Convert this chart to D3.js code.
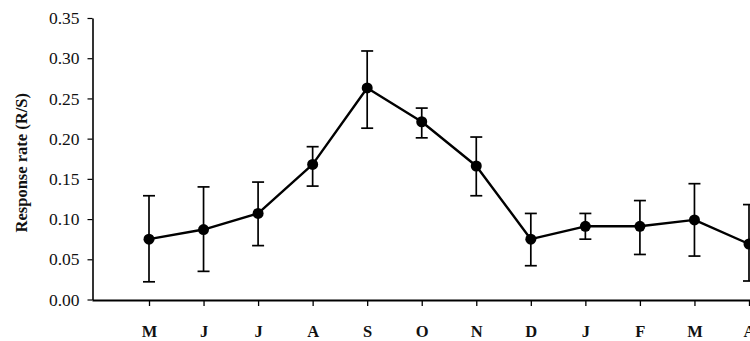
<!DOCTYPE html>
<html>
<head>
<meta charset="utf-8">
<script src="https://cdn.jsdelivr.net/npm/d3@7"></script>
<style>
  body { margin: 0; background: #fff; }
  svg { display: block; }
  svg text { font-family: "Liberation Serif", "DejaVu Serif", serif; }
</style>
</head>
<body>
<div id="chart"></div>
<script>
// months, May -> April
var months = ["M", "J", "J", "A", "S", "O", "N", "D", "J", "F", "M", "A"];
var rate   = [0.075, 0.087, 0.107, 0.168, 0.263, 0.221, 0.166, 0.075, 0.091, 0.091, 0.099, 0.069];
var upper  = [0.129, 0.140, 0.146, 0.190, 0.309, 0.238, 0.202, 0.107, 0.107, 0.123, 0.144, 0.118];
var lower  = [0.022, 0.035, 0.067, 0.141, 0.213, 0.201, 0.129, 0.042, 0.075, 0.056, 0.054, 0.023];
var yTicks = [0, 0.05, 0.10, 0.15, 0.20, 0.25, 0.30, 0.35];

var width = 750, height = 341;
var svg = d3.select("#chart").append("svg")
    .attr("width", width)
    .attr("height", height);

var data = months.map((m, i) => ({ i: i, m: m, v: rate[i], hi: upper[i], lo: lower[i] }));

// x: index positions (last one sits at the right edge, chart is cut off there)
var x = d3.scaleLinear()
    .domain([0, 11])
    .range([149, 749]);

var y = d3.scaleLinear()
    .domain([0, 0.35])
    .range([299.5, 18]);

var xAxis = g => g
    .attr("transform", "translate(0,300)")
    .attr("font-family", null)
    .call(d3.axisBottom(x).tickValues(d3.range(12)).tickFormat(i => months[i]).tickSize(6).tickPadding(19).tickSizeOuter(0))
    .call(g => g.select(".domain").attr("d", `M92.5,0.5H${width + 10}`).attr("stroke-width", 2))
    .call(g => g.selectAll(".tick line").attr("stroke-width", 1.3))
    .call(g => g.selectAll(".tick text").attr("font-size", 16.5).attr("font-weight", "bold").attr("fill", "#111"));

var yAxis = g => g
    .attr("transform", "translate(92.5,0)")
    .attr("font-family", null)
    .call(d3.axisLeft(y).tickValues(yTicks).tickFormat(d3.format(".2f")).tickSize(5).tickPadding(8).tickSizeOuter(0))
    .call(g => g.select(".domain").attr("stroke-width", 1.6))
    .call(g => g.selectAll(".tick line").attr("stroke-width", 1.2))
    .call(g => g.selectAll(".tick text").attr("font-size", 17.5).attr("fill", "#111"));

svg.append("g").call(xAxis);
svg.append("g").call(yAxis);

svg.append("text")
    .attr("transform", "translate(27," + y(0.17) + ") rotate(-90)")
    .attr("text-anchor", "middle")
    .attr("font-size", 16.5)
    .attr("font-weight", "bold")
    .attr("fill", "#111")
    .text("Response rate (R/S)");

// error bars
var bars = svg.append("g").attr("stroke", "#000").attr("stroke-width", 1.7);
bars.selectAll("line.err")
    .data(data)
    .join("line")
    .attr("class", "err")
    .attr("x1", d => x(d.i)).attr("x2", d => x(d.i))
    .attr("y1", d => y(d.hi)).attr("y2", d => y(d.lo));

var cap = 6;
bars.selectAll("line.capHi")
    .data(data)
    .join("line")
    .attr("class", "capHi")
    .attr("x1", d => x(d.i) - cap).attr("x2", d => x(d.i) + cap)
    .attr("y1", d => y(d.hi)).attr("y2", d => y(d.hi));
bars.selectAll("line.capLo")
    .data(data)
    .join("line")
    .attr("class", "capLo")
    .attr("x1", d => x(d.i) - cap).attr("x2", d => x(d.i) + cap)
    .attr("y1", d => y(d.lo)).attr("y2", d => y(d.lo));

var line = d3.line()
    .x(d => x(d.i))
    .y(d => y(d.v));

svg.append("path")
    .datum(data)
    .attr("fill", "none")
    .attr("stroke", "#000")
    .attr("stroke-width", 2.4)
    .attr("stroke-linejoin", "round")
    .attr("d", line);

svg.append("g")
    .selectAll("circle")
    .data(data)
    .join("circle")
    .attr("cx", d => x(d.i))
    .attr("cy", d => y(d.v))
    .attr("r", 5.5)
    .attr("fill", "#000");
</script>
</body>
</html>
